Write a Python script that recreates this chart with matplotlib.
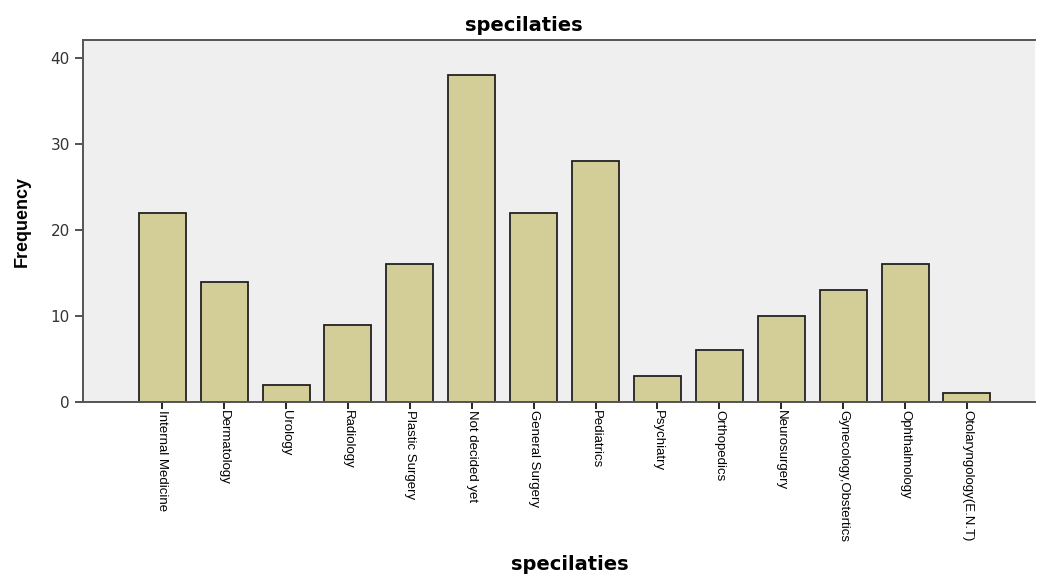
import matplotlib.pyplot as plt
import numpy as np

# frequency of chosen specialty
specialties = ['Internal Medicine', 'Dermatology', 'Urology', 'Radiology',
               'Plastic Surgery', 'Not decided yet', 'General Surgery',
               'Pediatrics', 'Psychiatry', 'Orthopedics', 'Neurosurgery',
               'Gynecology,Obstertics', 'Ophthalmology', 'Otolaryngology(E.N.T)']
counts = [22, 14, 2, 9, 16, 38, 22, 28, 3, 6, 10, 13, 16, 1]

fig = plt.figure(figsize=(10.42, 5.74), dpi=100)
ax = fig.add_axes([0.0797, 0.2997, 0.9136, 0.6303])
ax.set_facecolor('#efefef')

x = np.arange(len(specialties))
ax.bar(x, counts, width=0.76, color='#d3ce98', edgecolor='#222222', linewidth=1.3, zorder=2)

ax.set_xlim(-1.28, len(specialties) - 1 + 1.1)
ax.set_ylim(0, 42.1)
ax.set_yticks([0, 10, 20, 30, 40])
ax.tick_params(axis='y', labelsize=11, length=6, width=1.2, colors='#333333')
ax.set_xticks(x)
ax.set_xticklabels(specialties, rotation=270, ha='center', va='top',
                   family='Liberation Sans', fontsize=9.5)
ax.tick_params(axis='x', length=5, width=1.2, pad=1)

for side in ['left', 'bottom', 'top']:
    ax.spines[side].set_color('#555555')
    ax.spines[side].set_linewidth(1.4)
ax.spines['right'].set_visible(False)

ax.set_ylabel('Frequency', fontsize=13, fontweight='bold',
              family='Liberation Sans', labelpad=14)
fig.text(0.503, 0.956, 'specilaties', ha='center', va='center', fontsize=14, fontweight='bold')
fig.text(0.547, 0.017, 'specilaties', ha='center', va='center', fontsize=14, fontweight='bold')

fig.savefig('out.png', dpi=100)
